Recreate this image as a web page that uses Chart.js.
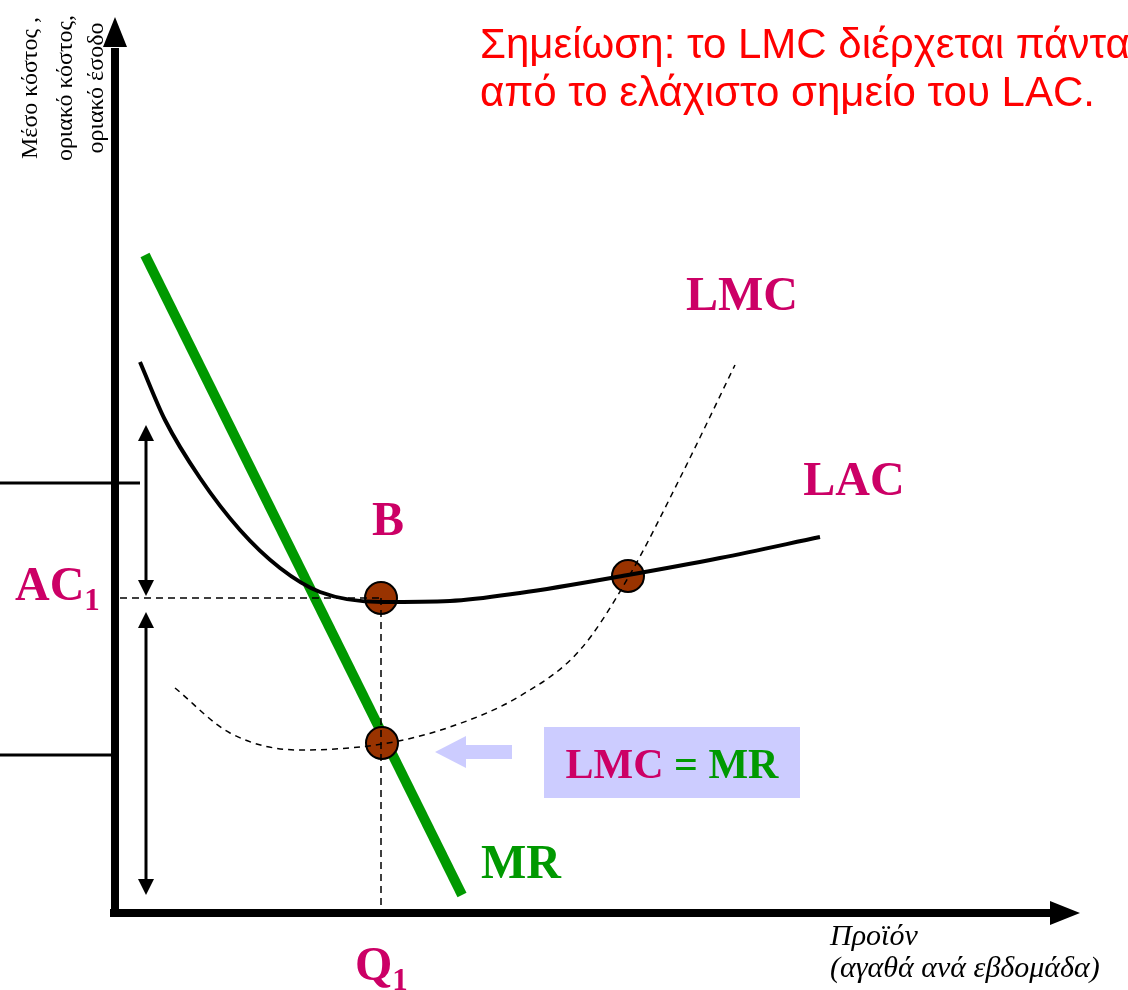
<!DOCTYPE html>
<html>
<head>
<meta charset="utf-8">
<script src="https://cdn.jsdelivr.net/npm/chart.js@4.4.1/dist/chart.umd.min.js"></script>
<style>
  html, body { margin: 0; padding: 0; background: #fff; overflow: hidden; }
  canvas { display: block; }
</style>
</head>
<body>
<canvas id="chart" width="1128" height="990"></canvas>
<script>
// Output (x) and cost / revenue (y)
const lacQ    = [2.5, 5.0, 8.5, 12.5, 16.5, 20.5, 26.7, 33.5, 40.5, 51.3, 60.5, 70.5];
const lacCost = [55.1, 49.3, 43.5, 38.3, 34.5, 32.1, 31.1, 31.2, 32.0, 33.8, 35.5, 37.6];

const lmcQ    = [6.0, 11.5, 18.5, 26.7, 33.5, 40.5, 46.5, 51.3, 56.5, 62.0];
const lmcCost = [22.5, 18.0, 16.3, 16.9, 18.6, 21.7, 26.3, 33.5, 43.5, 54.8];

const mrQ       = [3.0, 34.7];
const mrRevenue = [65.8, 1.8];

const pointQ    = [26.6, 26.7, 51.3];
const pointCost = [31.5, 17.0, 33.7];

const q1  = 26.6;
const ac1 = 31.5;

// old price levels at the left edge, and the two spans marked with double arrows
const levelCost = [43.0, 15.8];
const levelEnd  = [2.5, 0.3];
const spanQ     = 3.1;
const spanFrom  = [48.8, 30.1];
const spanTo    = [31.7, 1.8];

const MAGENTA = '#cc0066';
const GREEN = '#009900';
const BROWN = '#993300';

function zip(xs, ys) {
  return xs.map((x, i) => ({ x: x, y: ys[i] }));
}

// labels, in chart units
const labels = [
  { text: 'LMC', x: 62.7, y: 60.3, color: MAGENTA },
  { text: 'LAC', x: 73.9, y: 41.8, color: MAGENTA },
  { text: 'B',   x: 27.3, y: 37.8, color: MAGENTA },
  { text: 'MR',  x: 40.6, y: 3.5,  color: GREEN }
];

const drawPlugin = {
  id: 'drawing',
  beforeDatasetsDraw(chart) {
    const ctx = chart.ctx;
    const xs = chart.scales.x, ys = chart.scales.y;
    const px = v => xs.getPixelForValue(v);
    const py = v => ys.getPixelForValue(v);
    ctx.save();
    ctx.fillStyle = '#000';
    ctx.strokeStyle = '#000';
    ctx.lineCap = 'butt';

    // axes
    ctx.lineWidth = 8;
    ctx.beginPath();
    ctx.moveTo(px(0), py(-0.4));
    ctx.lineTo(px(0), py(86.5));
    ctx.moveTo(px(-0.5), py(0));
    ctx.lineTo(px(93.6), py(0));
    ctx.stroke();
    arrowHead(ctx, px(0), py(89.6), 0, -1, 30, 12);
    arrowHead(ctx, px(96.5), py(0), 1, 0, 30, 12);

    // old levels
    ctx.lineWidth = 3;
    levelCost.forEach((c, i) => {
      ctx.beginPath();
      ctx.moveTo(px(-11.5), py(c));
      ctx.lineTo(px(levelEnd[i]), py(c));
      ctx.stroke();
    });

    // double arrows
    ctx.lineWidth = 3;
    spanFrom.forEach((a, i) => {
      const b = spanTo[i];
      ctx.beginPath();
      ctx.moveTo(px(spanQ), py(a) + 14);
      ctx.lineTo(px(spanQ), py(b) - 14);
      ctx.stroke();
      arrowHead(ctx, px(spanQ), py(a), 0, -1, 16, 8);
      arrowHead(ctx, px(spanQ), py(b), 0, 1, 16, 8);
    });

    // lavender arrow pointing at LMC = MR
    ctx.fillStyle = '#ccccff';
    const tipX = px(32.0), midY = py(16.1);
    ctx.beginPath();
    ctx.moveTo(tipX, midY);
    ctx.lineTo(tipX + 31, midY - 16);
    ctx.lineTo(tipX + 31, midY - 7);
    ctx.lineTo(px(39.7), midY - 7);
    ctx.lineTo(px(39.7), midY + 7);
    ctx.lineTo(tipX + 31, midY + 7);
    ctx.lineTo(tipX + 31, midY + 16);
    ctx.closePath();
    ctx.fill();

    // LMC = MR box
    ctx.fillRect(px(42.9), py(18.6), px(68.5) - px(42.9), py(11.5) - py(18.6));
    ctx.restore();
  },
  afterDatasetsDraw(chart) {
    const ctx = chart.ctx;
    const xs = chart.scales.x, ys = chart.scales.y;
    const px = v => xs.getPixelForValue(v);
    const py = v => ys.getPixelForValue(v);
    ctx.save();
    ctx.textBaseline = 'alphabetic';

    ctx.font = 'bold 48px "Liberation Serif", serif';
    ctx.textAlign = 'center';
    labels.forEach(l => {
      ctx.fillStyle = l.color;
      ctx.fillText(l.text, px(l.x), py(l.y));
    });

    // AC1 and Q1 with subscripts
    ctx.textAlign = 'left';
    ctx.fillStyle = MAGENTA;
    subText(ctx, 'AC', '1', px(-10.0), py(31.3));
    subText(ctx, 'Q', '1', px(24.0), py(-6.7));

    // text in the box
    ctx.font = 'bold 42px "Liberation Serif", serif';
    const t1 = 'LMC', t2 = ' = MR';
    const w = ctx.measureText(t1 + t2).width;
    const sx = px(55.7) - w / 2;
    ctx.fillStyle = MAGENTA;
    ctx.fillText(t1, sx, py(13.5));
    ctx.fillStyle = GREEN;
    ctx.fillText(t2, sx + ctx.measureText(t1).width, py(13.5));

    // axis titles
    ctx.fillStyle = '#000';
    ctx.font = 'italic 30px "Liberation Serif", serif';
    ctx.fillText('Προϊόν', px(71.5), py(-3.2));
    ctx.fillText('(αγαθά ανά εβδομάδα)', px(71.5), py(-6.4));

    ctx.save();
    ctx.translate(px(-7.8), py(82.5));
    ctx.rotate(-Math.PI / 2);
    ctx.textAlign = 'center';
    ctx.font = '24px "Liberation Serif", serif';
    ctx.fillText('Μέσο κόστος ,', 0, 0);
    ctx.fillText('οριακό κόστος,', 0, 35);
    ctx.fillText('οριακό έσοδο', 0, 66);
    ctx.restore();

    // note
    ctx.fillStyle = '#ff0000';
    ctx.font = '42px "Liberation Sans", Arial, sans-serif';
    ctx.fillText('Σημείωση: το LMC διέρχεται πάντα', px(36.5), py(85.5));
    ctx.fillText('από το ελάχιστο σημείο του LAC.', px(36.5), py(80.7));
    ctx.restore();
  }
};

function arrowHead(ctx, x, y, dx, dy, len, half) {
  // tip at (x, y), pointing along (dx, dy)
  const bx = x - dx * len, by = y - dy * len;
  ctx.beginPath();
  ctx.moveTo(x, y);
  ctx.lineTo(bx - dy * half, by + dx * half);
  ctx.lineTo(bx + dy * half, by - dx * half);
  ctx.closePath();
  ctx.fill();
}

function subText(ctx, main, sub, x, y) {
  ctx.font = 'bold 48px "Liberation Serif", serif';
  ctx.fillText(main, x, y);
  const w = ctx.measureText(main).width;
  ctx.font = 'bold 31px "Liberation Serif", serif';
  ctx.fillText(sub, x + w, y + 10);
}

new Chart(document.getElementById('chart'), {
  type: 'scatter',
  data: {
    datasets: [
      {
        label: 'LAC',
        data: zip(lacQ, lacCost),
        showLine: true,
        borderColor: '#000',
        borderWidth: 4,
        pointRadius: 0,
        cubicInterpolationMode: 'monotone',
        order: 0
      },
      {
        label: 'LMC',
        data: zip(lmcQ, lmcCost),
        showLine: true,
        borderColor: '#000',
        borderWidth: 1.5,
        borderDash: [6, 5],
        pointRadius: 0,
        cubicInterpolationMode: 'monotone',
        order: 0
      },
      {
        label: 'AC1',
        data: [{ x: 0.5, y: ac1 }, { x: q1, y: ac1 }],
        showLine: true,
        borderColor: '#000',
        borderWidth: 1.5,
        borderDash: [7, 5],
        pointRadius: 0,
        order: 0
      },
      {
        label: 'Q1',
        data: [{ x: q1, y: ac1 }, { x: q1, y: 0 }],
        showLine: true,
        borderColor: '#000',
        borderWidth: 1.5,
        borderDash: [7, 5],
        pointRadius: 0,
        order: 0
      },
      {
        label: 'points',
        data: zip(pointQ, pointCost),
        showLine: false,
        pointRadius: 16,
        pointBackgroundColor: BROWN,
        pointBorderColor: '#000',
        pointBorderWidth: 2,
        order: 10
      },
      {
        label: 'MR',
        data: zip(mrQ, mrRevenue),
        showLine: true,
        borderColor: GREEN,
        borderWidth: 10,
        pointRadius: 0,
        order: 20
      }
    ]
  },
  options: {
    responsive: false,
    animation: false,
    devicePixelRatio: 1,
    layout: { padding: 0, autoPadding: false },
    scales: {
      x: { type: 'linear', min: -11.5, max: 101.3, display: false },
      y: { type: 'linear', min: -7.7, max: 91.3, display: false }
    },
    plugins: {
      legend: { display: false },
      tooltip: { enabled: false }
    }
  },
  plugins: [drawPlugin]
});
</script>
</body>
</html>
